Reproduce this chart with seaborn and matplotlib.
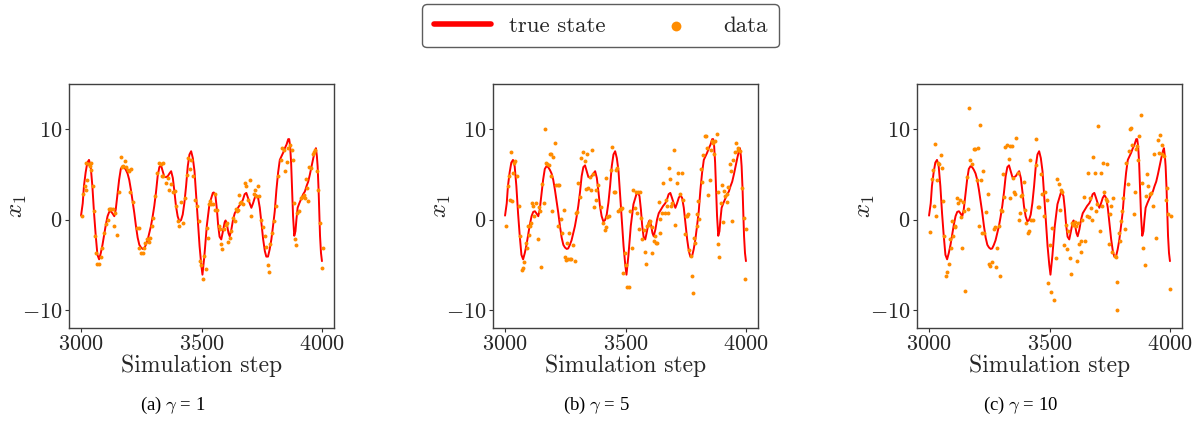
import matplotlib
matplotlib.use("Agg")
import matplotlib.pyplot as plt
import seaborn as sns

# ---- true trajectory of x_1 ----
true_step = [3000, 3007, 3012, 3019, 3026, 3033, 3040, 3047, 3054, 3061, 3068, 3075,
             3082, 3089, 3096, 3103, 3110, 3117, 3124, 3131, 3138, 3144, 3151, 3158,
             3165, 3172, 3179, 3186, 3193, 3200, 3207, 3214, 3221, 3228, 3235, 3242,
             3249, 3256, 3262, 3269, 3276, 3283, 3290, 3297, 3304, 3311, 3318, 3325,
             3332, 3339, 3346, 3353, 3360, 3367, 3374, 3381, 3388, 3394, 3401, 3408,
             3415, 3422, 3429, 3436, 3443, 3450, 3457, 3464, 3471, 3478, 3485, 3492,
             3499, 3504, 3512, 3522, 3533, 3547, 3551, 3558, 3564, 3569, 3575, 3582,
             3589, 3596, 3600, 3606, 3612, 3617, 3624, 3631, 3638, 3647, 3656, 3665,
             3672, 3679, 3686, 3693, 3700, 3707, 3714, 3721, 3728, 3735, 3742, 3749,
             3756, 3763, 3769, 3776, 3783, 3790, 3797, 3804, 3811, 3818, 3825, 3832,
             3839, 3846, 3853, 3860, 3864, 3868, 3872, 3876, 3880, 3885, 3890, 3894,
             3899, 3906, 3914, 3922, 3929, 3936, 3943, 3950, 3957, 3964, 3971, 3975,
             3979, 3982, 3986, 3989, 3992, 3996, 4000]
true_x1 = [0.44, 1.8, 3.7, 5.2, 6.3, 6.6, 5.9, 3.7, 0.7, -1.8, -3.9, -4.4,
           -3.7, -2.8, -1.7, -0.55, 0.37, 0.85, 0.92, 0.66, 0.37, 1.1, 2.8, 4.4,
           5.6, 5.9, 5.8, 5.5, 5.1, 4.4, 3.3, 2.0, 0.74, -0.74, -2.0, -2.8,
           -3.1, -3.25, -3.2, -2.8, -2.3, -1.5, -0.74, 0.3, 1.5, 3.0, 4.8, 5.8,
           6.0, 5.35, 4.7, 4.7, 4.8, 5.1, 5.35, 4.6, 3.0, 1.5, 0.37, -0.2,
           -0.07, 0.55, 1.85, 3.7, 5.9, 7.2, 7.56, 6.8, 5.35, 2.6, 0.0, -2.95,
           -5.0, -6.1, -4.0, -0.7, 1.7, 2.95, 3.0, 2.6, 1.1, -0.6, -1.9, -2.2,
           -1.3, -0.3, -0.1, -0.6, -1.5, -1.85, -1.1, 0.0, 0.7, 1.1, 1.5, 1.8,
           2.2, 2.8, 2.95, 2.4, 1.8, 1.3, 1.8, 2.4, 2.7, 2.4, 1.3, -0.4,
           -2.2, -3.5, -4.1, -4.1, -3.3, -2.2, -0.7, 0.9, 3.3, 5.2, 6.6, 7.0,
           7.4, 7.9, 8.3, 8.9, 8.9, 8.1, 6.3, 3.3, 0.4, -1.8, -1.3, 0.0,
           1.3, 1.8, 2.3, 2.8, 3.1, 3.7, 4.2, 5.0, 5.9, 6.8, 7.6, 7.9,
           7.0, 5.9, 3.3, 0.7, -1.8, -3.7, -4.6]

# ---- noisy observations, gamma = 1 ----
obs_step_g1 = [3003, 3008, 3015, 3019, 3022, 3026, 3031, 3036, 3040, 3043, 3050, 3054,
               3058, 3064, 3068, 3075, 3082, 3086, 3096, 3103, 3110, 3114, 3119, 3124,
               3131, 3135, 3142, 3149, 3158, 3164, 3169, 3175, 3182, 3186, 3193, 3200,
               3203, 3207, 3217, 3231, 3239, 3242, 3249, 3256, 3262, 3267, 3272, 3276,
               3283, 3288, 3294, 3300, 3308, 3314, 3325, 3332, 3335, 3339, 3342, 3353,
               3360, 3367, 3374, 3381, 3388, 3394, 3401, 3408, 3415, 3422, 3433, 3440,
               3446, 3453, 3457, 3464, 3471, 3481, 3488, 3492, 3499, 3506, 3512, 3517,
               3522, 3526, 3531, 3536, 3540, 3547, 3554, 3558, 3564, 3572, 3578, 3582,
               3586, 3592, 3600, 3606, 3610, 3617, 3624, 3631, 3638, 3642, 3647, 3651,
               3656, 3661, 3665, 3672, 3681, 3686, 3693, 3700, 3707, 3717, 3722, 3728,
               3736, 3739, 3749, 3756, 3762, 3769, 3776, 3781, 3786, 3794, 3801, 3808,
               3818, 3828, 3835, 3842, 3846, 3853, 3860, 3867, 3874, 3878, 3883, 3889,
               3894, 3897, 3906, 3912, 3919, 3925, 3929, 3933, 3939, 3943, 3947, 3953,
               3961, 3967, 3971, 3978, 3985, 3992, 3999, 4003]
obs_x1_g1 = [0.4, 2.8, 3.7, 3.3, 6.3, 4.4, 6.1, 5.9, 6.3, 5.5, 3.7, 0.9,
             -1.8, -3.7, -4.9, -4.9, -4.1, -3.1, -1.5, -0.5, 0.0, 1.2, 1.2, 1.2,
             1.2, -0.7, 0.7, -1.7, 3.0, 6.9, 5.8, 5.9, 6.5, 5.8, 5.5, 5.4,
             3.1, 5.6, 1.9, -0.9, -0.9, -3.2, -3.7, -3.7, -3.2, -2.6, -2.2, -2.1,
             -2.5, -2.0, -0.7, 0.2, 2.6, 5.1, 6.3, 6.2, 4.8, 6.3, 4.8, 4.1,
             4.6, 3.3, 3.9, 3.0, 3.2, 1.5, -0.2, -0.7, 1.9, -0.4, 2.4, 4.9,
             6.8, 5.6, 6.6, 4.8, 2.2, 1.5, -0.2, -4.6, -5.0, -6.6, -4.0, -5.5,
             -0.9, -2.0, 1.7, 2.0, 1.7, 1.7, 1.1, 2.8, 1.1, -0.7, -1.1, -2.7,
             -3.3, -1.1, -0.6, -0.4, -2.5, -2.0, -1.3, 0.2, -0.2, 1.2, 0.9, 1.1,
             2.7, 1.8, 1.9, 1.7, 4.1, 3.7, 2.2, 4.4, 0.4, 2.8, 3.3, 2.6,
             3.7, 2.6, -0.1, -0.8, -1.8, -3.0, -5.0, -5.8, -2.7, -1.5, -0.2, 1.5,
             4.8, 6.6, 7.9, 7.7, 5.4, 6.4, 7.9, 8.2, 7.7, 6.6, 1.8, -2.1,
             -2.8, 0.7, 0.9, 2.4, 2.5, 2.7, 2.4, 4.5, 3.5, 2.0, 5.8, 5.7,
             7.2, 7.5, 7.7, 5.4, 3.3, -0.4, -5.4, -3.1]

# ---- noisy observations, gamma = 5 ----
obs_step_g5 = [3004, 3011, 3015, 3021, 3025, 3029, 3035, 3039, 3043, 3049, 3057, 3063,
               3069, 3074, 3078, 3085, 3090, 3094, 3101, 3104, 3108, 3113, 3118, 3122,
               3129, 3136, 3140, 3146, 3150, 3154, 3160, 3164, 3168, 3174, 3182, 3185,
               3190, 3192, 3196, 3199, 3208, 3213, 3219, 3221, 3226, 3231, 3238, 3243,
               3247, 3251, 3257, 3261, 3265, 3271, 3275, 3282, 3289, 3293, 3299, 3303,
               3310, 3317, 3324, 3331, 3335, 3340, 3344, 3351, 3356, 3361, 3365, 3369,
               3376, 3379, 3386, 3397, 3407, 3414, 3418, 3421, 3425, 3431, 3438, 3446,
               3451, 3456, 3460, 3465, 3469, 3476, 3483, 3487, 3490, 3497, 3501, 3507,
               3515, 3520, 3525, 3532, 3539, 3543, 3548, 3552, 3557, 3562, 3566, 3570,
               3576, 3580, 3584, 3590, 3594, 3598, 3601, 3608, 3612, 3618, 3622, 3626,
               3632, 3640, 3643, 3645, 3650, 3657, 3664, 3668, 3673, 3677, 3682, 3684,
               3687, 3695, 3701, 3705, 3715, 3719, 3726, 3733, 3740, 3747, 3751, 3757,
               3761, 3765, 3770, 3775, 3779, 3784, 3789, 3795, 3798, 3802, 3807, 3812,
               3816, 3823, 3830, 3834, 3840, 3844, 3851, 3854, 3858, 3862, 3868, 3872,
               3879, 3882, 3886, 3890, 3895, 3900, 3904, 3909, 3915, 3920, 3923, 3927,
               3932, 3937, 3941, 3948, 3955, 3959, 3965, 3969, 3976, 3983, 3990, 3997,
               4001]
obs_x1_g5 = [-0.7, 3.7, 4.8, 2.2, 7.5, 2.1, 5.1, 6.3, 6.5, 4.8, 1.5, -1.8,
             -5.6, -5.4, -4.7, -2.6, -3.1, -0.7, -1.7, -0.7, -0.4, 1.8, 1.5, 0.4,
             1.8, -2.1, 1.4, 0.9, -5.2, 3.9, 1.8, 10.0, 6.3, 6.1, 6.0, 7.3,
             4.8, 7.2, 0.9, 6.9, 8.5, 3.8, 3.8, -0.7, 3.8, 0.1, -1.5, 1.1,
             -4.1, -4.5, -2.6, -4.4, -1.5, -4.4, -4.4, -2.8, -4.6, 0.7, 0.8, 4.0,
             2.5, 6.8, 7.5, 6.5, 3.4, 7.3, 3.5, 4.7, 3.3, 7.7, 5.0, 1.4,
             2.2, 3.3, 3.8, 1.4, -0.4, -1.2, -0.8, 4.6, 0.3, 0.4, 5.5, 8.0,
             3.0, 3.1, 5.5, 5.7, 1.0, 1.2, 1.2, 1.3, -5.9, -3.7, -5.0, -7.5,
             -7.5, 1.0, -3.2, 3.3, 1.3, 3.1, 0.7, 3.1, -1.1, 3.0, 0.2, -2.2,
             -1.2, -3.6, -4.9, -0.7, -0.6, -0.4, -0.2, -3.7, -0.8, -2.4, -1.8, -2.6,
             -2.6, 1.9, 0.1, -1.5, 0.7, 4.1, 0.7, 2.2, 1.5, 0.7, 5.7, 4.5,
             1.5, 1.8, 7.7, -0.6, 4.1, 5.1, 2.8, 5.1, 2.2, -1.6, 0.4, 0.4,
             0.6, -3.4, -4.0, -6.2, -8.1, -2.0, -2.6, -0.7, 0.6, 2.0, 0.1, 5.6,
             4.2, 7.1, 9.2, 9.3, 7.9, 2.7, 4.4, 7.7, 8.7, 8.5, 7.3, 8.7,
             9.5, 3.1, -2.7, -4.1, 1.8, 3.8, -0.3, 3.2, 2.6, 2.8, 1.9, 3.6,
             6.1, 5.4, -0.2, 6.6, 7.5, 8.5, 7.7, 7.9, 7.6, 3.5, 0.2, -6.6,
             -1.1]

# ---- noisy observations, gamma = 10 ----
obs_step_g10 = [3004, 3011, 3018, 3021, 3025, 3029, 3035, 3039, 3043, 3049, 3053, 3057,
                3063, 3071, 3076, 3081, 3088, 3092, 3094, 3101, 3106, 3108, 3115, 3122,
                3129, 3132, 3136, 3140, 3146, 3150, 3157, 3161, 3167, 3171, 3178, 3185,
                3192, 3199, 3203, 3206, 3210, 3215, 3221, 3224, 3229, 3238, 3244, 3247,
                3254, 3261, 3268, 3272, 3278, 3282, 3289, 3293, 3299, 3303, 3307, 3313,
                3317, 3324, 3331, 3335, 3338, 3344, 3349, 3351, 3357, 3363, 3368, 3372,
                3376, 3382, 3386, 3393, 3400, 3404, 3410, 3414, 3418, 3424, 3432, 3442,
                3446, 3451, 3456, 3465, 3469, 3476, 3483, 3488, 3493, 3501, 3508, 3511,
                3518, 3525, 3532, 3539, 3543, 3549, 3553, 3560, 3567, 3571, 3576, 3585,
                3590, 3594, 3599, 3604, 3608, 3613, 3618, 3622, 3629, 3632, 3636, 3643,
                3647, 3654, 3658, 3664, 3668, 3674, 3678, 3682, 3688, 3692, 3699, 3703,
                3708, 3715, 3719, 3722, 3726, 3733, 3738, 3740, 3747, 3751, 3757, 3761,
                3765, 3771, 3775, 3779, 3782, 3789, 3793, 3797, 3803, 3807, 3813, 3817,
                3824, 3831, 3835, 3840, 3844, 3849, 3854, 3858, 3865, 3868, 3872, 3879,
                3885, 3890, 3896, 3900, 3904, 3910, 3918, 3921, 3928, 3935, 3942, 3949,
                3954, 3960, 3965, 3969, 3976, 3983, 3988, 3993, 3999, 4004]
obs_x1_g10 = [-1.4, 4.5, 5.5, 1.5, 8.4, 0.4, 4.4, 6.3, 6.1, 7.1, 5.7, 2.0,
              -1.8, -6.2, -5.8, -4.9, -2.1, -3.1, -0.2, -1.8, -0.8, -0.7, 2.4, 1.8,
              2.2, 0.3, -3.1, 1.9, 0.9, -7.9, 4.7, 1.2, 12.3, 6.6, 6.2, 7.8,
              7.8, 4.4, 7.9, -0.7, 10.5, 4.4, -1.5, 5.4, -1.5, 0.8, 2.8, -4.9,
              -5.1, -4.7, -1.1, -0.8, -5.2, -3.1, -0.7, -6.3, 1.1, 0.9, 5.0, 2.5,
              8.0, 8.2, 6.7, 8.1, 2.4, 8.1, 4.6, 3.0, 2.8, 9.0, 5.2, -0.1,
              0.7, 2.6, 2.7, 4.2, 1.1, -0.4, -1.5, -1.3, 6.6, 0.0, -0.1, 6.0,
              8.9, 1.4, 1.4, 5.0, 2.8, 0.4, 3.1, 2.2, -7.0, -2.8, -8.0, -0.9,
              -8.9, -4.2, 4.5, 3.9, 1.1, 3.3, 3.0, -2.8, -0.6, -3.3, -1.3, -4.2,
              -6.0, -0.4, -0.6, -0.3, -0.7, -4.6, -0.4, -2.7, -2.4, -3.6, 0.0, 2.5,
              -2.4, 0.4, 5.2, 0.3, 2.4, 1.3, 0.0, 6.9, 5.1, 1.0, 1.7, 10.3,
              -1.3, 5.2, 1.5, 6.3, 3.0, 2.3, 6.1, 2.0, -2.7, 0.6, 1.5, -3.6,
              2.4, -4.0, -4.1, -6.9, -10.0, -1.5, -2.4, -0.2, 0.9, 2.4, -1.0, 6.3,
              3.9, 7.6, 10.0, 10.1, 8.2, 0.6, 3.0, 7.8, 8.1, 6.6, 9.2, 11.6,
              4.1, -3.2, -5.0, 2.6, 5.0, 3.7, 2.8, 2.9, 1.5, 7.2, -2.0, 8.8,
              7.4, 9.4, 8.3, 7.2, 7.0, 2.2, 3.5, 0.6, -7.7, 0.4]

panels = [
    (obs_step_g1, obs_x1_g1, "(a) $\\gamma$ = 1"),
    (obs_step_g5, obs_x1_g5, "(b) $\\gamma$ = 5"),
    (obs_step_g10, obs_x1_g10, "(c) $\\gamma$ = 10"),
]
x_ticks = [3000, 3500, 4000]
y_ticks = [-10, 0, 10]

sns.set_style("white")
plt.rcParams.update({
    "font.family": "serif",
    "font.serif": ["cmr10"],
    "mathtext.fontset": "cm",
    "axes.formatter.use_mathtext": True,
    "axes.unicode_minus": True,
    "xtick.bottom": True,
    "ytick.left": True,
    "xtick.major.size": 3,
    "ytick.major.size": 3,
    "xtick.major.pad": 1.5,
    "ytick.major.pad": 1.5,
    "xtick.color": "0.2",
    "ytick.color": "0.2",
})

fig = plt.figure(figsize=(12.01, 4.21), dpi=100)
lefts = [69, 493, 917]
W, H = 1201, 421
ax_w, ax_top, ax_bot = 265, 84, 328

axes = []
for left, (st, val, cap) in zip(lefts, panels):
    ax = fig.add_axes([left / W, (H - ax_bot) / H, ax_w / W, (ax_bot - ax_top) / H])
    sns.lineplot(x=true_step, y=true_x1, ax=ax, color="red", linewidth=1.4,
                 label="true state", zorder=2)
    sns.scatterplot(x=st, y=val, ax=ax, color="darkorange", s=8, linewidth=0,
                    label="data", zorder=3)
    ax.set_xlim(2950, 4050)
    ax.set_ylim(-12, 15)
    ax.set_xticks(x_ticks)
    ax.set_yticks(y_ticks)
    ax.tick_params(labelsize=16, colors="0.2", labelcolor="0.15", width=0.8)
    ax.set_xlabel("Simulation step", fontsize=17, color="0.15", labelpad=0)
    ax.set_ylabel("$x_1$", fontsize=18, color="0.15", labelpad=-5)
    for sp in ax.spines.values():
        sp.set_visible(True)
        sp.set_color("0.25")
        sp.set_linewidth(1.0)
    ax.get_legend().remove()
    cx = (left + ax_w / 2 - 29) / W
    fig.text(cx, (H - 405) / H, cap, ha="center", va="center", fontsize=13.5,
             family="Liberation Serif", color="black")
    axes.append(ax)

handles, labels = axes[0].get_legend_handles_labels()
leg = fig.legend(handles, labels, loc="upper center", bbox_to_anchor=(0.5, 0.99),
                 borderaxespad=0, ncol=2, fontsize=16.5, frameon=True, fancybox=True,
                 edgecolor="0.2", handlelength=2.5, columnspacing=1.8,
                 handletextpad=0.8, borderpad=0.5)
leg.get_frame().set_linewidth(1.0)
leg.get_lines()[0].set_linewidth(4)
leg.legend_handles[1].set_sizes([50])

fig.savefig("out.png", dpi=100)
